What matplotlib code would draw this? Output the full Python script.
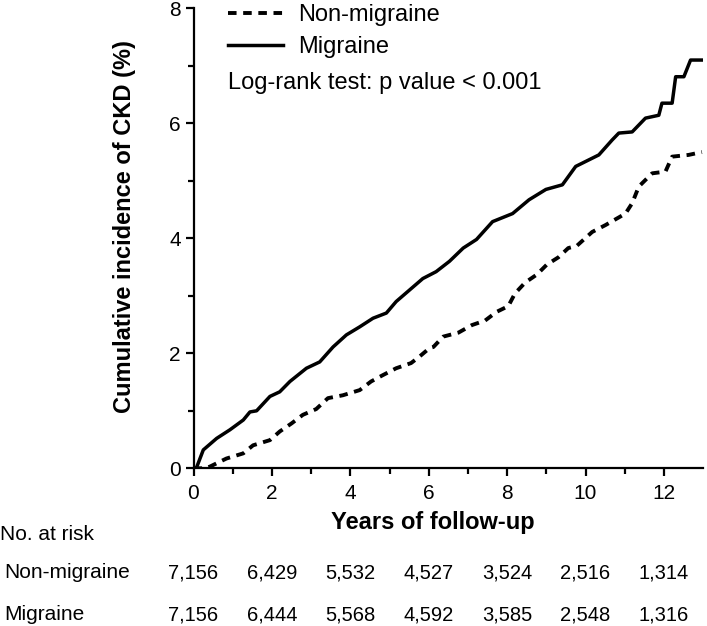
import numpy as np
import matplotlib
matplotlib.use("Agg")
import matplotlib.pyplot as plt
import matplotlib.transforms as mtransforms

plt.rcParams['font.family'] = ['Liberation Sans', 'DejaVu Sans']

# Migraine (solid) cumulative incidence, %
mig_years = [0, 0.07, 0.25, 0.59, 0.93, 1.27, 1.44, 1.61, 1.95, 2.2, 2.46, 2.88, 3.22, 3.56,
             3.9, 4.24, 4.58, 4.92, 5.17, 5.51, 5.85, 6.19, 6.53, 6.88, 7.22, 7.63, 8.14,
             8.56, 8.99, 9.41, 9.75, 10.34, 10.68, 10.85, 11.19, 11.53, 11.87, 11.95, 12.21,
             12.30, 12.51, 12.68, 13.0]
mig_cum = [0, 0, 0.32, 0.52, 0.67, 0.84, 0.98, 1.0, 1.25, 1.33, 1.51, 1.74, 1.85, 2.11,
           2.32, 2.46, 2.61, 2.70, 2.90, 3.10, 3.30, 3.42, 3.60, 3.83, 3.98, 4.29, 4.43,
           4.67, 4.85, 4.93, 5.25, 5.45, 5.71, 5.83, 5.85, 6.09, 6.14, 6.35, 6.35,
           6.81, 6.81, 7.10, 7.10]

# Non-migraine (dashed)
non_years = [0, 0.3, 0.42, 0.84, 1.27, 1.52, 1.95, 2.2, 2.5, 2.79, 3.13, 3.43, 3.81, 4.24,
             4.53, 4.83, 5.17, 5.55, 5.76, 6.02, 6.12, 6.37, 6.76, 7.10, 7.44, 7.73, 8.03,
             8.20, 8.46, 8.76, 9.01, 9.31, 9.56, 9.78, 10.17, 10.51, 11.02, 11.19, 11.36,
             11.70, 12.04, 12.21, 12.63, 12.97]
non_cum = [0, 0, 0.03, 0.17, 0.26, 0.40, 0.49, 0.64, 0.78, 0.93, 1.03, 1.22, 1.27, 1.36,
           1.51, 1.62, 1.74, 1.83, 1.94, 2.09, 2.11, 2.29, 2.36, 2.49, 2.57, 2.72, 2.82,
           3.04, 3.23, 3.37, 3.54, 3.67, 3.83, 3.87, 4.11, 4.23, 4.43, 4.61, 4.90,
           5.13, 5.16, 5.42, 5.45, 5.50]

risk_years = [0, 2, 4, 6, 8, 10, 12]
risk_non = ['7,156', '6,429', '5,532', '4,527', '3,524', '2,516', '1,314']
risk_mig = ['7,156', '6,444', '5,568', '4,592', '3,585', '2,548', '1,316']

W, H = 707, 626
fig = plt.figure(figsize=(W / 100, H / 100), dpi=100)
ax = fig.add_axes([193.5 / W, 1 - 468.3 / H, 509.6 / W, 460 / H])

ax.plot(non_years, non_cum, color='black', lw=2.8, linestyle=(0, (2.2, 1.7)),
        label='Non-migraine')
ax.plot(mig_years, mig_cum, color='black', lw=2.5, label='Migraine')

ax.set_xlim(0, 13)
ax.set_ylim(0, 8)
ax.set_xticks(np.arange(0, 13, 2))
ax.set_xticks(np.arange(1, 13, 2), minor=True)
ax.set_yticks(np.arange(0, 9, 2))
ax.set_yticks(np.arange(1, 9, 2), minor=True)
ax.spines['top'].set_visible(False)
ax.spines['right'].set_visible(False)
for s in ['left', 'bottom']:
    ax.spines[s].set_linewidth(1.6)
ax.tick_params(which='major', direction='out', length=6, width=1.6, labelsize=15)
ax.tick_params(which='minor', direction='out', length=4, width=1.6)
ax.tick_params(axis='x', which='major', pad=5)
ax.tick_params(axis='y', which='major', pad=3)

fig.text(125 / W, 1 - 227 / H, 'Cumulative incidence of CKD (%)', rotation=90,
         ha='center', va='center', fontsize=17, fontweight='bold')
fig.text(433 / W, 1 - 523 / H, 'Years of follow-up', ha='center', va='center',
         fontsize=17, fontweight='bold')

leg = ax.legend(loc='upper left', bbox_to_anchor=(228 / W, 1 - 4 / H),
                bbox_transform=fig.transFigure, frameon=False, fontsize=17,
                handlelength=2.35, handletextpad=0.62, labelspacing=0.42,
                borderpad=0, borderaxespad=0)
fig.text(228 / W, 1 - 83 / H, 'Log-rank test: p value < 0.001', ha='left', va='center',
         fontsize=17)

# number at risk table
fig.text(0, 1 - 535 / H, 'No. at risk', ha='left', va='center', fontsize=15)
fig.text(4 / W, 1 - 573 / H, 'Non-migraine', ha='left', va='center', fontsize=15)
fig.text(4 / W, 1 - 615 / H, 'Migraine', ha='left', va='center', fontsize=15)
trans = mtransforms.blended_transform_factory(ax.transData, fig.transFigure)
for x, a, b in zip(risk_years, risk_non, risk_mig):
    ax.text(x, 1 - 573 / H, a, transform=trans, ha='center', va='center', fontsize=14.5)
    ax.text(x, 1 - 615 / H, b, transform=trans, ha='center', va='center', fontsize=14.5)

fig.savefig('out.png', dpi=100)
